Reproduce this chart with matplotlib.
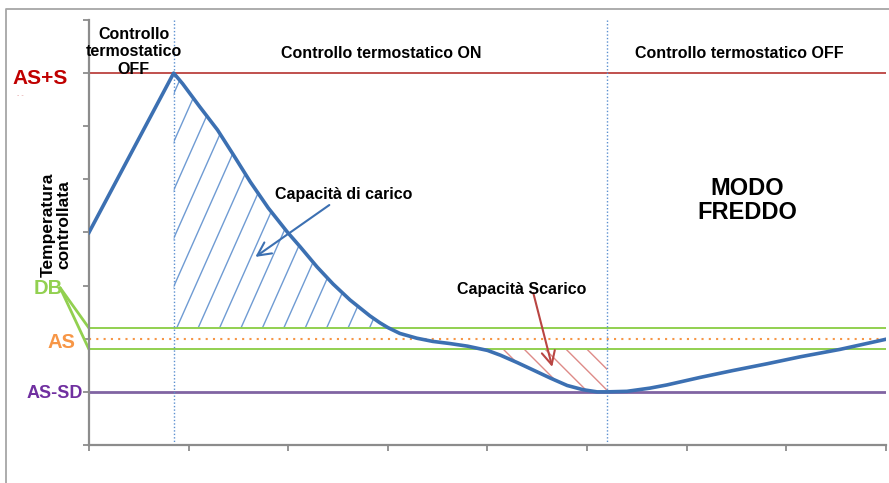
import numpy as np
import matplotlib
matplotlib.use("Agg")
import matplotlib.pyplot as plt
from matplotlib.lines import Line2D
from matplotlib.patches import Polygon

plt.rcParams['font.family'] = ['Liberation Sans', 'DejaVu Sans']

# temperature curve (x in tick units, y in tick units)
curve_x = [0.00, 0.85, 0.94, 1.11, 1.29, 1.45, 1.62, 1.80, 1.99, 2.12, 2.29, 2.45,
           2.62, 2.82, 2.92, 3.00, 3.12, 3.29, 3.45, 3.62, 3.80, 4.00, 4.13, 4.30,
           4.46, 4.63, 4.80, 4.96, 5.10, 5.20, 5.40, 5.63, 5.80, 6.13, 6.46, 6.81,
           7.14, 7.54, 8.00]
curve_y = [4.00, 7.00, 6.80, 6.37, 5.93, 5.46, 4.95, 4.46, 4.01, 3.73, 3.35, 3.03,
           2.73, 2.43, 2.30, 2.21, 2.10, 2.01, 1.95, 1.91, 1.86, 1.78, 1.69, 1.55,
           1.41, 1.26, 1.12, 1.04, 1.00, 1.00, 1.01, 1.07, 1.13, 1.27, 1.40, 1.53,
           1.66, 1.80, 1.99]

as_s = 7.0
db_high = 2.2
as_level = 2.0
db_low = 1.8
as_sd = 1.0
switch_x = [0.85, 5.2]

level_labels = ['AS+S', 'DB', 'AS', 'AS-SD']
phase_labels = ['Controllo\ntermostatico\nOFF', 'Controllo termostatico ON',
                'Controllo termostatico OFF']

fig = plt.figure(figsize=(8.89, 4.83), dpi=100)
ax = fig.add_axes([0.1001, 0.0787, 0.8965, 0.88])
ax.set_xlim(0, 8)
ax.set_ylim(0, 8)

x = np.array(curve_x)
y = np.array(curve_y)

# reference levels
ax.axhline(as_s, color='#c0504d', lw=1.4, zorder=2)
ax.axhline(db_high, color='#92d050', lw=1.4, zorder=2)
ax.axhline(db_low, color='#92d050', lw=1.4, zorder=2)
ax.axhline(as_level, color='#f79646', lw=1.5, ls=(0, (1, 2.5)), zorder=2)
ax.axhline(as_sd, color='#8064a2', lw=2, zorder=2)
for sx in switch_x:
    ax.axvline(sx, color='#5b8fd0', lw=1, ls=(0, (1, 1.5)), zorder=2)

# clip regions for the hatching
i_peak = int(np.argmax(y))
desc_x = x[i_peak:]
desc_y = y[i_peak:]
i_min = int(np.argmin(np.abs(desc_x - switch_x[1])))
seg_x = desc_x[:i_min + 1]
seg_y = desc_y[:i_min + 1]
cross_hi = np.interp(db_high, seg_y[::-1], seg_x[::-1])
cross_lo = np.interp(db_low, seg_y[::-1], seg_x[::-1])

m = seg_x < cross_hi
blue_pts = [(switch_x[0], db_high)] + list(zip(seg_x[m], seg_y[m])) + [(cross_hi, db_high)]
m = seg_x > cross_lo
red_pts = [(cross_lo, db_low)] + list(zip(seg_x[m], seg_y[m])) + [(switch_x[1], db_low)]

blue_clip = Polygon(blue_pts, closed=True, transform=ax.transData, fill=False, lw=0)
red_clip = Polygon(red_pts, closed=True, transform=ax.transData, fill=False, lw=0)
ax.add_patch(blue_clip)
ax.add_patch(red_clip)

k_blue = 4.22
for x0 in np.arange(0.88 - 0.215 * 8, 3.2, 0.215):
    ln, = ax.plot([x0, x0 + (as_s - db_high) / k_blue], [db_high, as_s],
                  color='#6f9bd3', lw=1, zorder=1)
    ln.set_clip_path(blue_clip)

k_red = 1.876
for x0 in np.arange(4.16 - 0.21 * 4, 5.3, 0.21):
    ln, = ax.plot([x0, x0 + (db_low - as_sd) / k_red], [db_low, as_sd],
                  color='#de8b88', lw=1, zorder=1)
    ln.set_clip_path(red_clip)

ax.plot(x, y, color='#3c70b2', lw=2.6, zorder=4, solid_joinstyle='round')

# axes look
for side in ['top', 'right']:
    ax.spines[side].set_visible(False)
for side in ['left', 'bottom']:
    ax.spines[side].set_color('#8c8c8c')
    ax.spines[side].set_linewidth(1.6)
ax.set_xticks(range(9))
ax.set_yticks(range(9))
ax.tick_params(colors='#8c8c8c', length=4, width=1.3, labelleft=False, labelbottom=False)

# texts
ax.text(0.45, 7.87, phase_labels[0], ha='center', va='top', fontsize=11.5,
        fontweight='bold', linespacing=1.2)
ax.text(2.93, 7.36, phase_labels[1], ha='center', va='center', fontsize=11.5, fontweight='bold')
ax.text(6.53, 7.36, phase_labels[2], ha='center', va='center', fontsize=11.5, fontweight='bold')
ax.text(6.61, 4.6, 'MODO\nFREDDO', ha='center', va='center', fontsize=17,
        fontweight='bold', linespacing=1.05)

ax.annotate('Capacità di carico', xy=(1.67, 3.54), xytext=(1.87, 4.71),
            fontsize=11.5, fontweight='bold', ha='left', va='center',
            arrowprops=dict(arrowstyle='->', color='#3c70b2', lw=1.5,
                            mutation_scale=24, shrinkA=0, shrinkB=0), zorder=5)
ax.annotate('', xy=(4.65, 1.47), xytext=(4.46, 2.86),
            arrowprops=dict(arrowstyle='->', color='#b94542', lw=1.5,
                            mutation_scale=24, shrinkA=0, shrinkB=0), zorder=5)
ax.text(4.34, 2.92, 'Capacità Scarico', fontsize=11.5, fontweight='bold',
        ha='center', va='center', zorder=6)

# level labels left of the axis
ax.text(-0.49, 6.9, level_labels[0], color='#c00000', fontsize=15, fontweight='bold',
        ha='center', va='center', clip_on=False)
ax.text(-0.72, 6.58, '- -', color='#e3a0a0', fontsize=5, ha='left', va='center', clip_on=False)
ax.text(-0.41, 2.95, level_labels[1], color='#92d050', fontsize=14.5, fontweight='bold',
        ha='center', va='center', clip_on=False)
ax.text(-0.28, 1.93, level_labels[2], color='#f79646', fontsize=14.5, fontweight='bold',
        ha='center', va='center', clip_on=False)
ax.text(-0.34, 0.96, level_labels[3], color='#7030a0', fontsize=13, fontweight='bold',
        ha='center', va='center', clip_on=False)
for lvl in [db_high, db_low]:
    ax.plot([-0.29, 0], [2.96, lvl], color='#92d050', lw=2, clip_on=False,
            solid_capstyle='round')

ax.text(-0.33, 4.14, 'Temperatura\ncontrollata', rotation=90, fontsize=12.5,
        fontweight='bold', ha='center', va='center', linespacing=1.05)

# outer frame (top and left visible)
fig.add_artist(Line2D([0.0068, 0.0068, 1.0], [0.0, 0.9814, 0.9814],
                      transform=fig.transFigure, color='#a6a6a6', lw=1.3))

fig.savefig('out.png', dpi=100)
